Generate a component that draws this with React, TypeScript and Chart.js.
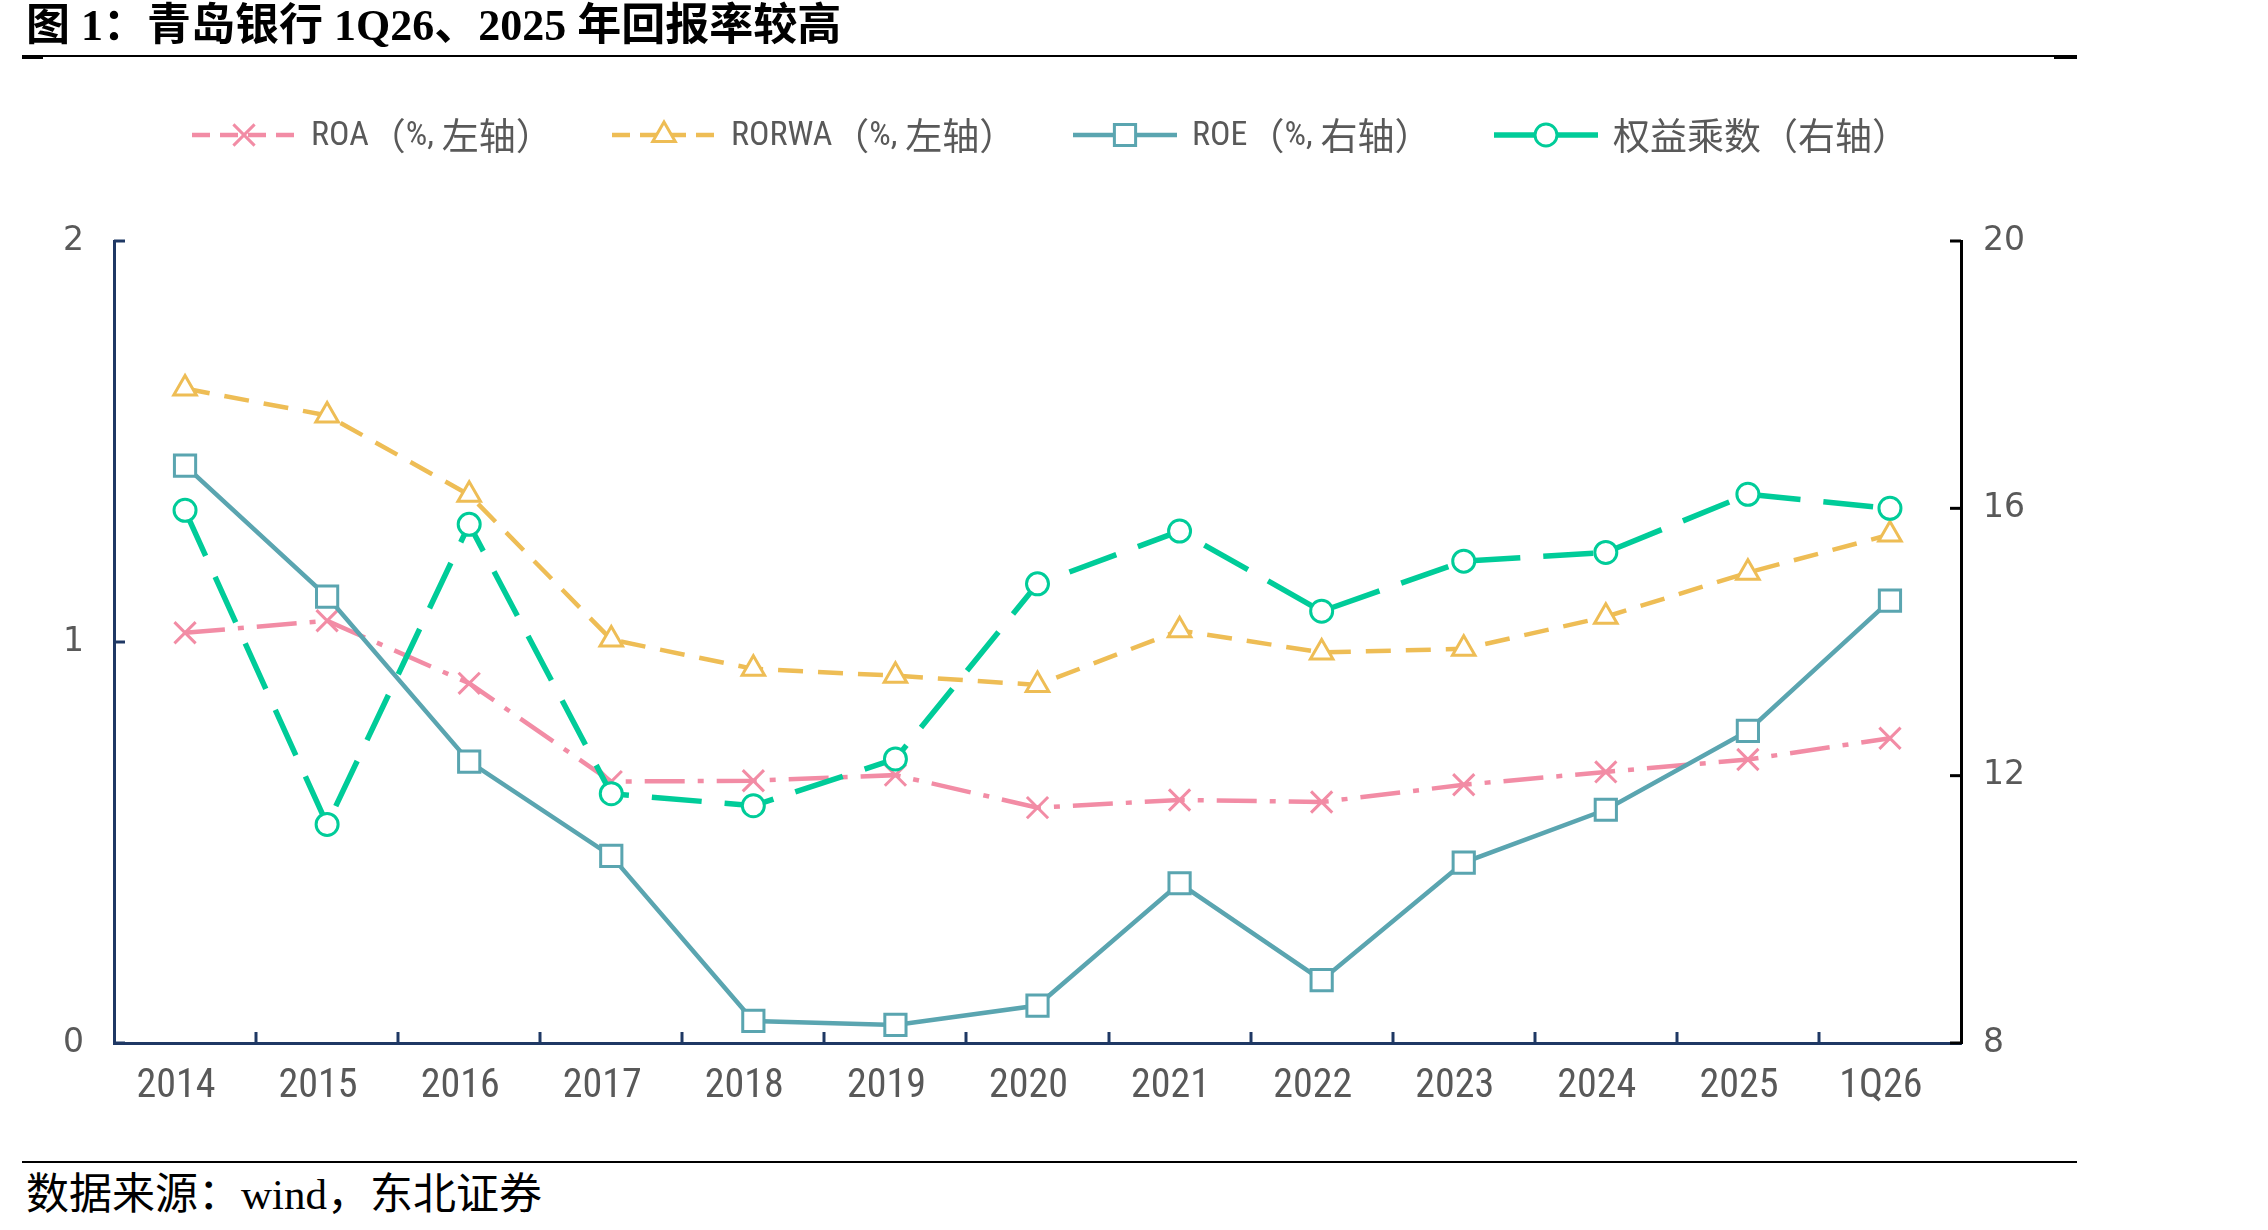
import React, { useEffect, useRef } from "react";
import { Chart, registerables } from "chart.js";

Chart.register(...registerables);

const categories = ["2014", "2015", "2016", "2017", "2018", "2019", "2020", "2021", "2022", "2023", "2024", "2025", "1Q26"];
const roa = [1.023, 1.053, 0.897, 0.652, 0.654, 0.668, 0.587, 0.606, 0.601, 0.644, 0.676, 0.707, 0.76];
const rorwa = [1.632, 1.565, 1.367, 1.006, 0.933, 0.916, 0.893, 1.029, 0.974, 0.983, 1.063, 1.173, 1.268];
const roe = [16.64, 14.68, 12.21, 10.8, 8.33, 8.27, 8.56, 10.39, 8.94, 10.7, 11.49, 12.67, 14.62];
const equityMultiplier = [15.97, 11.27, 15.76, 11.73, 11.55, 12.25, 14.87, 15.66, 14.46, 15.21, 15.34, 16.21, 16.0];
const leftAxisRange = [0, 2, 1];
const rightAxisRange = [8, 20, 4];
const seriesLabels = ["ROA（%, 左轴）", "RORWA（%, 左轴）", "ROE（%, 右轴）", "权益乘数（右轴）"];
const titleText = "图 1：青岛银行 1Q26、2025 年回报率较高";
const sourceText = "数据来源：wind，东北证券";

const PINK = "#F28CA5";
const YELLOW = "#EEBD55";
const TEAL = "#5AA5B0";
const GREEN = "#00CC99";
const NAVY = "#1F3864";
const LABEL = "#595959";
const NARROW = '"Liberation Sans Narrow", "Arial Narrow", "Roboto Condensed", "DejaVu Sans Condensed", "Noto Sans CJK SC", sans-serif';
const CJK = '"Noto Sans CJK SC", sans-serif';
const ROUND = '"DejaVu Sans", "Liberation Sans", sans-serif';

type Style = { color: string; dash: number[]; width: number; point: string; radius: number };
const styles: Style[] = [
  { color: PINK, dash: [40, 13, 6, 13], width: 4.5, point: "crossRot", radius: 15 },
  { color: YELLOW, dash: [25, 15], width: 4.5, point: "triangle", radius: 13 },
  { color: TEAL, dash: [], width: 4.5, point: "rect", radius: 15 },
  { color: GREEN, dash: [50, 23], width: 5.5, point: "circle", radius: 11 },
];

function drawMarker(ctx: CanvasRenderingContext2D, style: string, x: number, y: number, r: number) {
  ctx.beginPath();
  if (style === "crossRot") {
    const o = r * Math.SQRT1_2;
    ctx.moveTo(x - o, y - o);
    ctx.lineTo(x + o, y + o);
    ctx.moveTo(x + o, y - o);
    ctx.lineTo(x - o, y + o);
    ctx.stroke();
    return;
  }
  if (style === "triangle") {
    ctx.moveTo(x, y - r);
    ctx.lineTo(x + r * Math.sin(Math.PI / 3), y + r / 2);
    ctx.lineTo(x - r * Math.sin(Math.PI / 3), y + r / 2);
    ctx.closePath();
  } else if (style === "rect") {
    const s = r * Math.SQRT1_2;
    ctx.rect(x - s, y - s, 2 * s, 2 * s);
  } else {
    ctx.arc(x, y, r, 0, Math.PI * 2);
  }
  ctx.fillStyle = "#fff";
  ctx.fill();
  ctx.stroke();
}

function drawMixedText(ctx: CanvasRenderingContext2D, text: string, x: number, y: number) {
  const runs: { s: string; cjk: boolean }[] = [];
  for (const ch of text) {
    const cjk = ch.charCodeAt(0) > 0x2e80;
    const last = runs[runs.length - 1];
    if (last && last.cjk === cjk) last.s += ch;
    else runs.push({ s: ch, cjk });
  }
  let cx = x;
  runs.forEach((r) => {
    ctx.font = r.cjk ? `37px ${CJK}` : `34px ${NARROW}`;
    ctx.fillText(r.s, cx, y);
    cx += ctx.measureText(r.s).width;
  });
}

const legendStarts = [192, 612, 1073, 1494];

const customLegend = {
  id: "customLegend",
  afterDraw(chart: any) {
    const ctx: CanvasRenderingContext2D = chart.ctx;
    const y = 135;
    ctx.save();
    seriesLabels.forEach((label, i) => {
      const st = styles[i];
      const x0 = legendStarts[i];
      ctx.strokeStyle = st.color;
      ctx.lineWidth = st.width;
      ctx.setLineDash(i === 2 || i === 3 ? [] : [18, 10]);
      ctx.beginPath();
      ctx.moveTo(x0, y);
      ctx.lineTo(x0 + 104, y);
      ctx.stroke();
      ctx.setLineDash([]);
      ctx.lineWidth = 3;
      drawMarker(ctx, st.point, x0 + 52, y, st.radius);
      ctx.fillStyle = LABEL;
      ctx.textAlign = "left";
      ctx.textBaseline = "middle";
      drawMixedText(ctx, label, x0 + 119, y + 1);
    });
    ctx.restore();
  },
};

const inwardTicks = {
  id: "inwardTicks",
  afterDraw(chart: any) {
    const { ctx, chartArea, scales } = chart;
    const len = 11;
    ctx.save();
    ctx.lineWidth = 3;
    ctx.strokeStyle = NAVY;
    const xs = scales.x;
    for (let i = 1; i < xs.ticks.length; i++) {
      const px = Math.round((xs.getPixelForTick(i - 1) + xs.getPixelForTick(i)) / 2);
      ctx.beginPath();
      ctx.moveTo(px, chartArea.bottom);
      ctx.lineTo(px, chartArea.bottom - len);
      ctx.stroke();
    }
    const yl = scales.y;
    yl.ticks.forEach((_: any, i: number) => {
      const py = yl.getPixelForTick(i);
      ctx.beginPath();
      ctx.moveTo(chartArea.left, py);
      ctx.lineTo(chartArea.left + len, py);
      ctx.stroke();
    });
    ctx.strokeStyle = "#000";
    const yr = scales.y1;
    yr.ticks.forEach((_: any, i: number) => {
      const py = yr.getPixelForTick(i);
      ctx.beginPath();
      ctx.moveTo(chartArea.right, py);
      ctx.lineTo(chartArea.right - len, py);
      ctx.stroke();
    });
    ctx.restore();
  },
};

export default function App() {
  const ref = useRef<HTMLCanvasElement | null>(null);

  useEffect(() => {
    if (!ref.current) return;
    const datasets = [roa, rorwa, roe, equityMultiplier].map((data, i) => {
      const st = styles[i];
      return {
        label: seriesLabels[i],
        data,
        yAxisID: i < 2 ? "y" : "y1",
        borderColor: st.color,
        borderWidth: st.width,
        borderDash: st.dash,
        pointStyle: st.point,
        pointRadius: st.radius,
        pointBorderWidth: 3,
        pointBorderColor: st.color,
        pointBackgroundColor: "#ffffff",
        tension: 0,
        fill: false,
        order: 4 - i,
      };
    });
    const yFont = { size: 33, family: ROUND };
    const xFont = { size: 40, family: NARROW };
    const chart = new Chart(ref.current, {
      type: "line",
      data: { labels: categories, datasets },
      plugins: [inwardTicks, customLegend],
      options: {
        responsive: false,
        animation: false,
        layout: { padding: { left: 40, right: 207, top: 241, bottom: 27 } },
        plugins: { legend: { display: false }, tooltip: { enabled: false } },
        scales: {
          x: {
            type: "category",
            offset: true,
            grid: { display: false, drawTicks: false },
            border: { display: true, color: NAVY, width: 3 },
            ticks: { padding: 20, labelOffset: -9, color: LABEL, font: xFont, maxRotation: 0, autoSkip: false },
            afterFit: (s: any) => {
              s.height = 80;
            },
          },
          y: {
            position: "left",
            min: leftAxisRange[0],
            max: leftAxisRange[1],
            grid: { display: false, drawTicks: false },
            border: { display: true, color: NAVY, width: 3 },
            ticks: { stepSize: leftAxisRange[2], padding: 30, color: LABEL, font: yFont },
            afterFit: (s: any) => {
              s.width = 74;
            },
          },
          y1: {
            position: "right",
            min: rightAxisRange[0],
            max: rightAxisRange[1],
            grid: { display: false, drawTicks: false },
            border: { display: true, color: "#000", width: 3 },
            ticks: { stepSize: rightAxisRange[2], padding: 22, color: LABEL, font: yFont },
            afterFit: (s: any) => {
              s.width = 100;
            },
          },
        },
      },
    } as any);
    return () => chart.destroy();
  }, []);

  return (
    <div style={{ position: "absolute", left: 0, top: 0, width: 2268, height: 1230, overflow: "hidden", background: "#fff" }}>
      <canvas ref={ref} width={2268} height={1150} style={{ position: "absolute", left: 0, top: 0, width: 2268, height: 1150 }} />
      <div
        style={{
          position: "absolute",
          left: 26,
          top: 0,
          fontFamily: '"Liberation Serif", "Noto Sans CJK SC", serif',
          fontWeight: "bold",
          fontSize: 44,
          lineHeight: "52px",
          color: "#000",
          whiteSpace: "nowrap",
        }}
      >
        {titleText}
      </div>
      <div style={{ position: "absolute", left: 22, top: 55, width: 2055, height: 2, background: "#000" }} />
      <div style={{ position: "absolute", left: 22, top: 56, width: 21, height: 3, background: "#000" }} />
      <div style={{ position: "absolute", left: 2054, top: 56, width: 23, height: 3, background: "#000" }} />
      <div style={{ position: "absolute", left: 22, top: 1161, width: 2055, height: 2, background: "#000" }} />
      <div
        style={{
          position: "absolute",
          left: 26,
          top: 1169,
          fontFamily: '"Liberation Serif", "Noto Sans CJK SC", serif',
          fontSize: 43,
          lineHeight: "52px",
          color: "#000",
          whiteSpace: "nowrap",
        }}
      >
        {sourceText}
      </div>
    </div>
  );
}
